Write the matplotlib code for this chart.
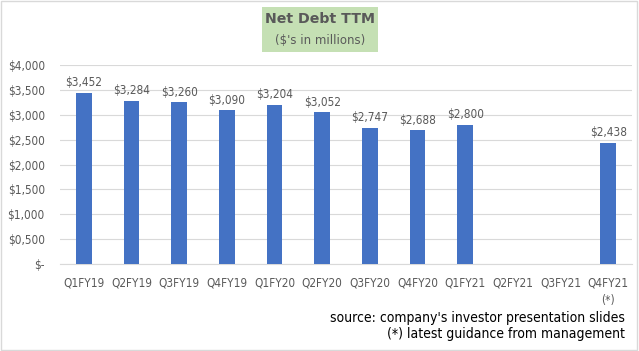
import matplotlib.pyplot as plt
from matplotlib.patches import Rectangle

quarters = ['Q1FY19', 'Q2FY19', 'Q3FY19', 'Q4FY19', 'Q1FY20', 'Q2FY20',
            'Q3FY20', 'Q4FY20', 'Q1FY21', 'Q2FY21', 'Q3FY21', 'Q4FY21\n(*)']
net_debt = [3452, 3284, 3260, 3090, 3204, 3052, 2747, 2688, 2800, None, None, 2438]
yticks = [0, 500, 1000, 1500, 2000, 2500, 3000, 3500, 4000]
ytick_labels = ['$-', '$0,500', '$1,000', '$1,500', '$2,000', '$2,500',
                '$3,000', '$3,500', '$4,000']

text_col = '#595959'
bar_col = '#4472C4'

fig = plt.figure(figsize=(6.39, 3.51), dpi=100)
ax = fig.add_axes([0.094, 0.248, 0.895, 0.566])

xs = [i for i, v in enumerate(net_debt) if v is not None]
vals = [v for v in net_debt if v is not None]
ax.bar(xs, vals, width=0.33, color=bar_col, zorder=3)
for x, v in zip(xs, vals):
    ax.text(x, v + 70, '${:,}'.format(v), ha='center', va='bottom',
            fontsize=8.5, color=text_col, stretch='condensed')

ax.set_xlim(-0.5, len(quarters) - 0.5)
ax.set_ylim(0, 4000)
ax.set_xticks(range(len(quarters)))
ax.set_xticklabels(quarters, fontsize=8.5, color=text_col, linespacing=1.5,
                   stretch='condensed')
ax.set_yticks(yticks)
ax.set_yticklabels(ytick_labels, fontsize=8.5, color=text_col, stretch='condensed')
ax.tick_params(axis='x', length=0, pad=9)
ax.tick_params(axis='y', length=0, pad=11)
ax.grid(axis='y', color='#D9D9D9', linewidth=0.8, zorder=0)
for s in ['top', 'right', 'left']:
    ax.spines[s].set_visible(False)
ax.spines['bottom'].set_color('#D9D9D9')

# title box
fig.patches.append(Rectangle((262 / 639, 1 - 52 / 351), 116 / 639, 45 / 351,
                             transform=fig.transFigure, facecolor='#C5E0B4',
                             edgecolor='none'))
fig.text(320 / 639, 1 - 19 / 351, 'Net Debt TTM', ha='center', va='center',
         fontsize=10.2, fontweight='bold', color=text_col)
fig.text(320 / 639, 1 - 40 / 351, "($'s in millions)", ha='center', va='center',
         fontsize=8.5, color=text_col)

fig.text(625 / 639, 1 - 318 / 351, "source: company's investor presentation slides",
         ha='right', va='center', fontsize=10, color='black', stretch='condensed')
fig.text(625 / 639, 1 - 334 / 351, '(*) latest guidance from management',
         ha='right', va='center', fontsize=10, color='black', stretch='condensed')

# outer border
fig.patches.append(Rectangle((0.002, 0.003), 0.995, 0.994, transform=fig.transFigure,
                             facecolor='none', edgecolor='#D9D9D9', linewidth=1))

fig.savefig('out.png', dpi=100)
